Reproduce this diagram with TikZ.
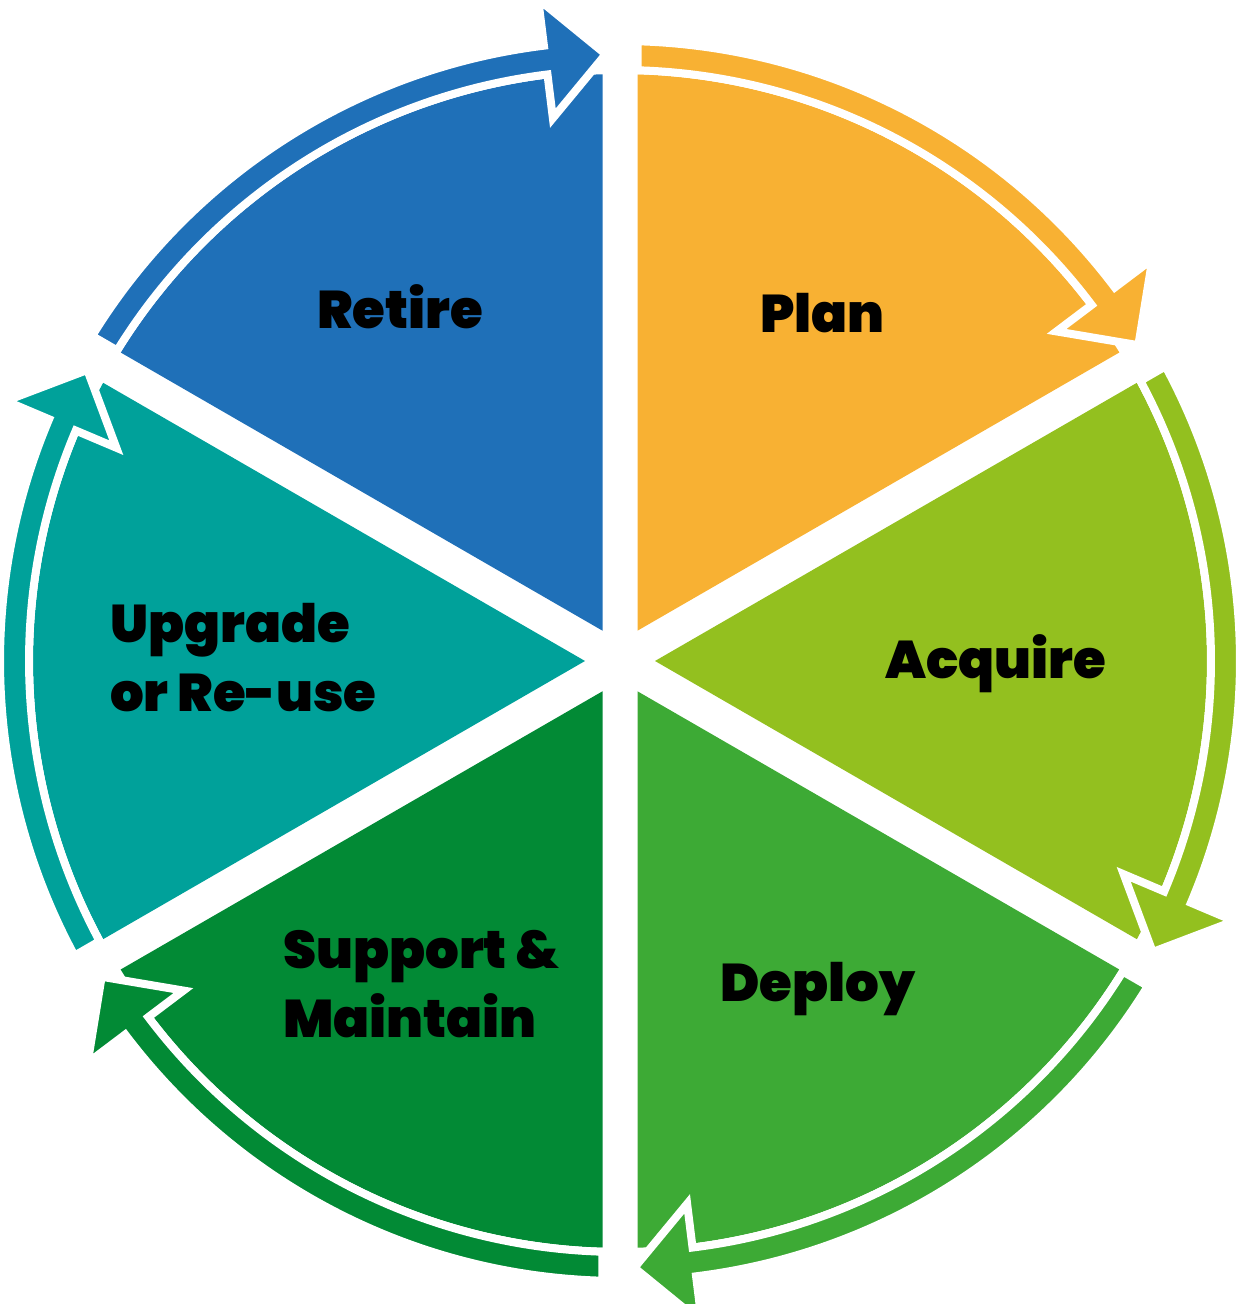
\documentclass[tikz,border=0pt]{standalone}
\usepackage{fontspec}
\IfFontExistsTF{Poppins Black}
  {\newfontfamily\phasefontfam{Poppins Black}\newcommand\phasefont{\phasefontfam}}
  {\newfontfamily\phasefontfam{Poppins}\newcommand\phasefont{\phasefontfam\bfseries}}

\definecolor{cplan}{HTML}{F8B133}
\definecolor{cacq}{HTML}{93C01F}
\definecolor{cdep}{HTML}{3DAA35}
\definecolor{csup}{HTML}{028A35}
\definecolor{cupg}{HTML}{00A19A}
\definecolor{cret}{HTML}{1F70B8}

\tikzset{
  phase/.style={anchor=base west, inner sep=0pt, align=left, text=black,
    font=\phasefont\fontsize{53}{69}\selectfont},
  cyclearrow/.style={draw=white, line width=8pt, line join=miter}
}

\begin{document}
\begin{tikzpicture}[x=1pt,y=1pt]
\useasboundingbox (0,0) rectangle (1236,1304);
\coordinate (C) at (620,643);

\begin{scope}[shift={(C)}]
  % six wedges separated by straight white gaps
  \foreach \b/\col in {30/cplan,-30/cacq,-90/cdep,-150/csup,150/cupg,90/cret}{
    \fill[\col] ({\b+30}:35) -- ({\b+1.71}:587)
      arc[start angle={\b+1.71}, end angle={\b+58.29}, radius=587] -- cycle;
  }
  % clockwise arc arrows around each wedge
  \foreach \b/\col in {30/cplan,-30/cacq,-90/cdep,-150/csup,150/cupg,90/cret}{
    \pgfmathsetmacro\tp{\b+1.85}
    \pgfmathsetmacro\st{\b+60}
    \filldraw[cyclearrow, fill=\col]
      ({\st-1.62}:620) arc[start angle={\st-1.62}, end angle={\tp+5.2}, radius=620]
      -- ({\tp+5.2}:667) -- ({\tp-0.5}:607) -- ({\tp+5.2}:547) -- ({\tp+5.2}:591)
      arc[start angle={\tp+5.2}, end angle={\st-1.70}, radius=591] -- cycle;
  }
\end{scope}

\node[phase] (retire)  at (317,975) {Retire};
\node[phase] (plan)    at (760,971) {Plan};
\node[phase] (acquire) at (885,625) {Acquire};
\node[phase] (deploy)  at (720,302) {Deploy};
\node[phase] (support) at (283,266) {Support \&\\Maintain};
\node[phase] (upgrade) at (110,592) {Upgrade\\or Re-use};
\end{tikzpicture}
\end{document}
